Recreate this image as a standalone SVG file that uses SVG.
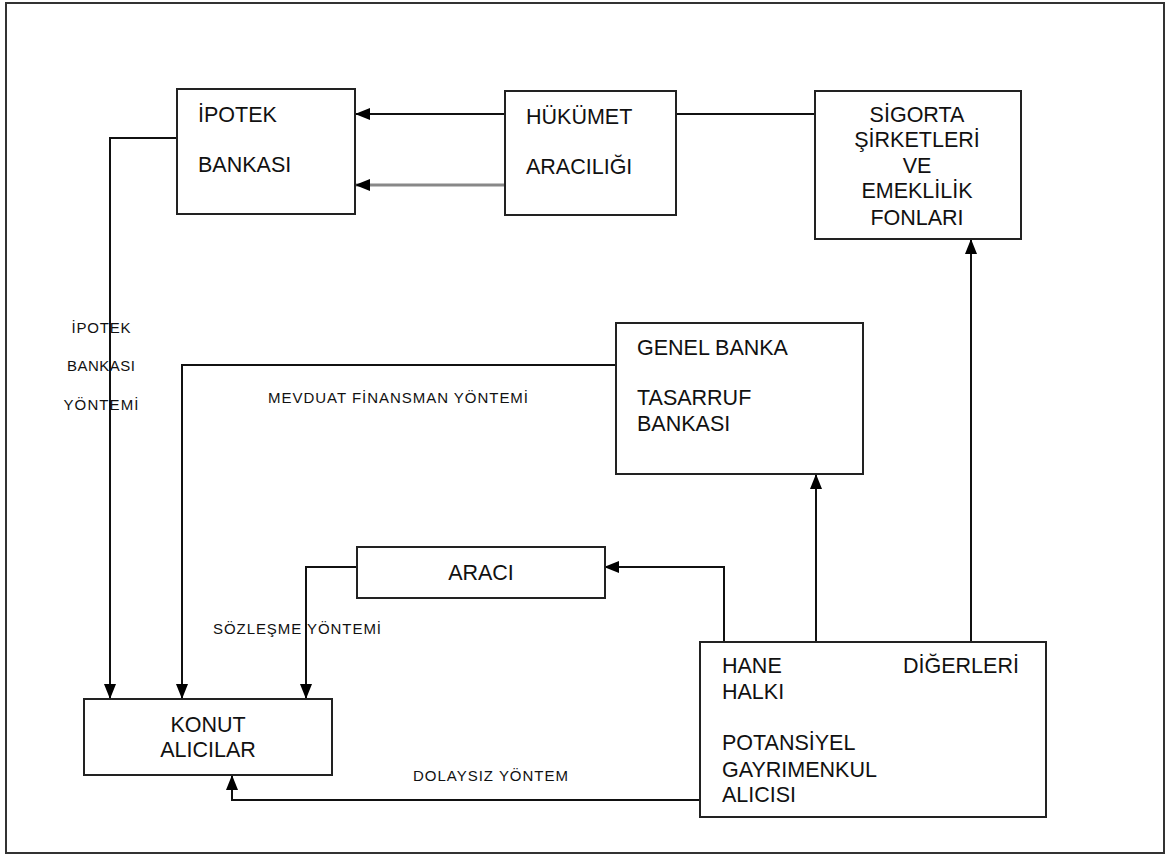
<svg xmlns="http://www.w3.org/2000/svg" width="1173" height="855" viewBox="0 0 1173 855">
<style>
.box{fill:#fff;stroke:#222;stroke-width:2}
.t{font-family:"Liberation Sans",Arial,sans-serif;font-size:21.5px;fill:#111}
.c{text-anchor:middle}
.lbl{font-family:"Liberation Sans",Arial,sans-serif;font-size:15px;fill:#111}
.ln{fill:none;stroke:#111;stroke-width:2}
.gr{fill:none;stroke:#888;stroke-width:3}
</style>
<defs>
<marker id="ah" markerUnits="userSpaceOnUse" markerWidth="15" markerHeight="12" refX="14" refY="6" orient="auto">
<path d="M0,0 L15,6 L0,12 Z" fill="#000"/>
</marker>
</defs>
<rect x="0" y="0" width="1173" height="855" fill="#fff"/>
<rect x="6" y="3" width="1158" height="850" fill="none" stroke="#333" stroke-width="2"/>

<g id="connectors">
<path class="ln" d="M505,114 H356" marker-end="url(#ah)"/>
<path class="gr" d="M505,185 H356" marker-end="url(#ah)"/>
<path class="ln" d="M676,114 H815"/>
<path class="ln" d="M177,138 H110 V698" marker-end="url(#ah)"/>
<path class="ln" d="M616,365 H182 V698" marker-end="url(#ah)"/>
<path class="ln" d="M357,567 H306 V698" marker-end="url(#ah)"/>
<path class="ln" d="M724,642 V567 H605" marker-end="url(#ah)"/>
<path class="ln" d="M816,642 V475" marker-end="url(#ah)"/>
<path class="ln" d="M971,642 V240" marker-end="url(#ah)"/>
<path class="ln" d="M700,800 H232 V776" marker-end="url(#ah)"/>
</g>

<g id="labels">
<text class="lbl c" x="101" y="333" textLength="59" lengthAdjust="spacing">İPOTEK</text>
<text class="lbl c" x="101" y="371" textLength="68" lengthAdjust="spacing">BANKASI</text>
<text class="lbl c" x="101" y="410" textLength="75" lengthAdjust="spacing">YÖNTEMİ</text>
<text class="lbl" x="268" y="403" textLength="260" lengthAdjust="spacing">MEVDUAT FİNANSMAN YÖNTEMİ</text>
<text class="lbl" x="213" y="634" textLength="168" lengthAdjust="spacing">SÖZLEŞME YÖNTEMİ</text>
<text class="lbl" x="413" y="781" textLength="155" lengthAdjust="spacing">DOLAYSIZ YÖNTEM</text>
</g>

<g id="ipotek">
<rect class="box" x="177" y="89" width="178" height="125"/>
<text class="t" x="198" y="122">İPOTEK</text>
<text class="t" x="198" y="172">BANKASI</text>
</g>

<g id="hukumet">
<rect class="box" x="505" y="91" width="171" height="124"/>
<text class="t" x="526" y="124">HÜKÜMET</text>
<text class="t" x="526" y="174">ARACILIĞI</text>
</g>

<g id="sigorta">
<rect class="box" x="815" y="91" width="206" height="148"/>
<text class="t c" x="917" y="122">SİGORTA</text>
<text class="t c" x="917" y="147">ŞİRKETLERİ</text>
<text class="t c" x="917" y="173">VE</text>
<text class="t c" x="917" y="198">EMEKLİLİK</text>
<text class="t c" x="917" y="225">FONLARI</text>
</g>

<g id="genel">
<rect class="box" x="616" y="323" width="247" height="151"/>
<text class="t" x="637" y="355">GENEL BANKA</text>
<text class="t" x="637" y="405">TASARRUF</text>
<text class="t" x="637" y="431">BANKASI</text>
</g>

<g id="araci">
<rect class="box" x="357" y="547" width="248" height="51"/>
<text class="t c" x="481" y="580">ARACI</text>
</g>

<g id="konut">
<rect class="box" x="84" y="699" width="248" height="76"/>
<text class="t c" x="208" y="732">KONUT</text>
<text class="t c" x="208" y="757">ALICILAR</text>
</g>

<g id="hane">
<rect class="box" x="700" y="642" width="346" height="175"/>
<text class="t" x="722" y="673">HANE</text>
<text class="t" x="722" y="699">HALKI</text>
<text class="t" x="722" y="750">POTANSİYEL</text>
<text class="t" x="722" y="777">GAYRIMENKUL</text>
<text class="t" x="722" y="802">ALICISI</text>
<text class="t" x="903" y="673">DİĞERLERİ</text>
</g>
</svg>
